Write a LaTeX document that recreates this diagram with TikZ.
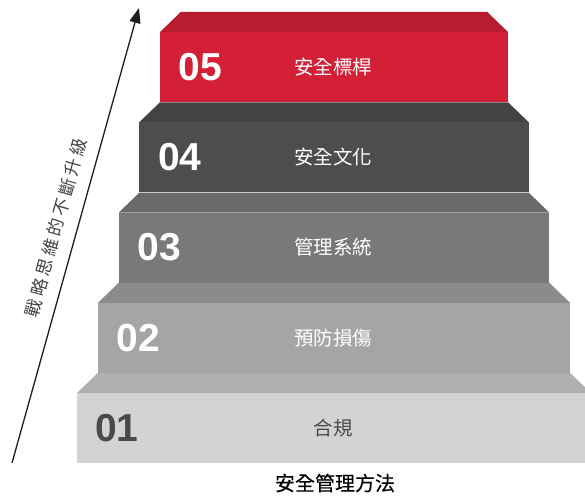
\documentclass[tikz,border=0pt]{standalone}
\usepackage{fontspec}
\usetikzlibrary{arrows.meta}
\newfontfamily\cjk{Noto Sans CJK TC}
\newfontfamily\cjkb[FakeBold=0.3]{Noto Sans CJK TC}
\newfontfamily\cjksp[LetterSpace=19]{Noto Sans CJK TC}
\newfontfamily\numf{Liberation Sans}
\definecolor{topA}{HTML}{B71C2F}
\definecolor{frontA}{HTML}{D32037}
\definecolor{topB}{HTML}{444243}
\definecolor{frontB}{HTML}{4E4C4D}
\definecolor{topC}{HTML}{6A6A6A}
\definecolor{frontC}{HTML}{7A7878}
\definecolor{topD}{HTML}{8B8B89}
\definecolor{frontD}{HTML}{A5A5A5}
\definecolor{topE}{HTML}{B0B0B0}
\definecolor{frontE}{HTML}{D3D3D3}
\definecolor{darktxt}{HTML}{4A4A4A}
\definecolor{arrowcol}{HTML}{1E1E1E}
\definecolor{sidetxt}{HTML}{444444}
\newcommand\drawstair[5]{%
  % #1 left, #2 right, #3 front top y, #4 top colour, #5 front colour
  \pgfmathsetmacro\stL{#1}\pgfmathsetmacro\stR{#2}\pgfmathsetmacro\stY{#3}%
  \fill[#4] (\stL+20.75,\stY-20) -- (\stR-20.75,\stY-20) -- (\stR,\stY) -- (\stL,\stY) -- cycle;
  \fill[#5] (\stL,\stY) rectangle (\stR,\stY+70);
}
\tikzset{
  numtxt/.style={font=\numf\bfseries\fontsize{39}{39}\selectfont, text=white, inner sep=0pt, anchor=center},
  lbltxt/.style={font=\cjk\fontsize{19.5}{20}\selectfont, text=white, inner sep=0pt, anchor=center},
  arrowline/.style={draw=arrowcol, line width=1.3pt, -{Triangle[length=15pt,width=11pt]}},
}
\begin{document}
\begin{tikzpicture}[x=1pt,y=-1pt]
\useasboundingbox (0,0) rectangle (585,495);
\fill[white] (0,0) rectangle (585,495);
% steps (bottom first)
\drawstair{77}{591}{393}{topE}{frontE}
\drawstair{98}{570}{302.75}{topD}{frontD}
\drawstair{118.75}{549.25}{212.5}{topC}{frontC}
\drawstair{139.25}{528.75}{122.25}{topB}{frontB}
\drawstair{160}{508}{32}{topA}{frontA}
% numbers
\node[numtxt] (n5) at (200.5,67.5) {05};
\node[numtxt] (n4) at (180,157.5) {04};
\node[numtxt] (n3) at (159.5,247.5) {03};
\node[numtxt] (n2) at (138.5,338) {02};
\node[numtxt, text=darktxt] (n1) at (117,428) {01};
% labels
\node[lbltxt] (l5) at (333,67) {安全標桿};
\node[lbltxt] (l4) at (333,157.25) {安全文化};
\node[lbltxt] (l3) at (333,247.5) {管理系統};
\node[lbltxt] (l2) at (333,337.75) {預防損傷};
\node[lbltxt, text=darktxt] (l1) at (333,428) {合規};
% bottom caption
\node[font=\cjkb\fontsize{20}{20}\selectfont, text=black, inner sep=0pt] (cap) at (335,483) {安全管理方法};
% arrow
\coordinate (as) at (12,463);
\coordinate (ae) at (139,8);
\draw[arrowline] (as) -- node[sloped, pos=0.505, yshift=21pt, inner sep=0pt, font=\cjksp\fontsize{17.5}{18}\selectfont, text=sidetxt] (side) {戰略思維的不斷升級} (ae);
\end{tikzpicture}
\end{document}
